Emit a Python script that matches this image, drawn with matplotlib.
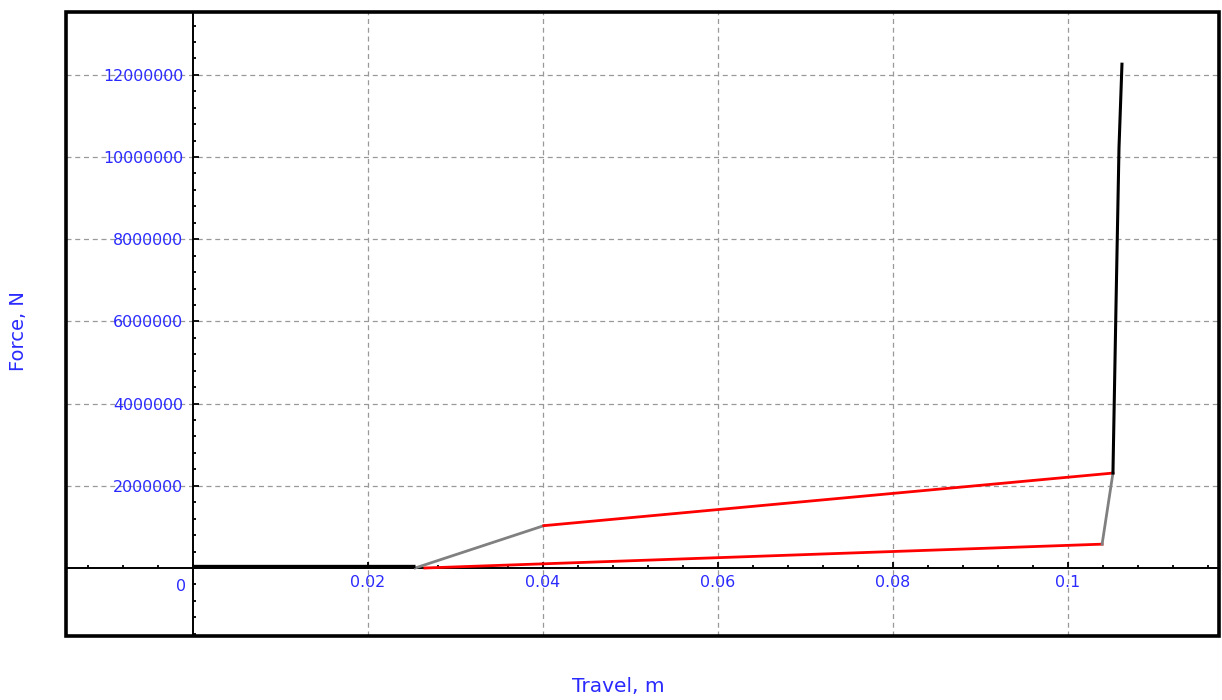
import matplotlib
matplotlib.use("Agg")
import matplotlib.pyplot as plt
from matplotlib.patches import Rectangle
from matplotlib.ticker import MultipleLocator, FuncFormatter

# Press force vs. travel curves
black_x = [0.0, 0.0254]
black_y = [40000, 40000]

gray_x = [0.0254, 0.0401]
gray_y = [0, 1.03e6]

red_upper_x = [0.0401, 0.10514]
red_upper_y = [1.03e6, 2.31e6]

red_lower_x = [0.0265, 0.1039]
red_lower_y = [0, 0.58e6]

gray_end_x = [0.1039, 0.10514]
gray_end_y = [0.58e6, 2.31e6]

black_end_x = [0.10514, 0.10549, 0.10583, 0.10617]
black_end_y = [2.31e6, 6.40e6, 10.22e6, 12.26e6]

x_ticks = [0.02, 0.04, 0.06, 0.08, 0.1]
x_tick_labels = ["0.02", "0.04", "0.06", "0.08", "0.1"]
y_ticks = [2000000, 4000000, 6000000, 8000000, 10000000, 12000000]

blue = "#2a2aff"
plt.rcParams["font.family"] = ["DejaVu Sans"]

fig = plt.figure(figsize=(12.22, 7.0), dpi=100)
ax = fig.add_axes([66 / 1222, 1 - 636 / 700, (1219 - 66) / 1222, (636 - 12) / 700])

ax.set_xlim(-0.01451, 0.11726)
ax.set_ylim(-1.655e6, 13.53e6)

ax.plot(black_x, black_y, color="black", lw=2.4, solid_capstyle="butt", zorder=4)
ax.plot(gray_x, gray_y, color="#808080", lw=2.0, zorder=3)
ax.plot(red_upper_x, red_upper_y, color="#ff0000", lw=2.0, zorder=3)
ax.plot(red_lower_x, red_lower_y, color="#ff0000", lw=2.0, zorder=3)
ax.plot(gray_end_x, gray_end_y, color="#808080", lw=2.0, zorder=3)
ax.plot(black_end_x, black_end_y, color="black", lw=2.2, zorder=4)

# Axes crossing at the origin
for side in ("top", "right"):
    ax.spines[side].set_visible(False)
ax.spines["left"].set_position(("data", 0))
ax.spines["bottom"].set_position(("data", 0))
ax.spines["left"].set_linewidth(1.4)
ax.spines["bottom"].set_linewidth(1.4)

ax.set_xticks(x_ticks)
ax.set_xticklabels(x_tick_labels)
ax.set_yticks(y_ticks)
ax.yaxis.set_major_formatter(FuncFormatter(lambda v, p: f"{int(round(v))}"))
ax.xaxis.set_minor_locator(MultipleLocator(0.004))
ax.yaxis.set_minor_locator(MultipleLocator(400000))

ax.tick_params(axis="both", which="major", direction="in", length=4.5, width=1.3,
               labelsize=11.4, labelcolor=blue, pad=5)
ax.tick_params(axis="both", which="minor", direction="in", length=2.5, width=1.3)
ax.tick_params(axis="y", which="major", pad=7)

ax.grid(True, which="major", color="#999999", linestyle=(0, (4, 3)), linewidth=0.9)
ax.set_axisbelow(True)

# Shared origin label
ax.annotate("0", xy=(0, 0), xytext=(-5, -8), textcoords="offset points",
            ha="right", va="top", color=blue, fontsize=11.4)

# Outer frame
ax.add_patch(Rectangle((0, 0), 1, 1, transform=ax.transAxes, fill=False,
                       edgecolor="black", linewidth=2.6, clip_on=False, zorder=6))

fig.text(618 / 1222, 1 - 686 / 700, "Travel, m", color=blue, fontsize=14.5,
         ha="center", va="center")
fig.text(19 / 1222, 1 - 331 / 700, "Force, N", color=blue, fontsize=14,
         rotation=90, ha="center", va="center")

fig.savefig("out.png", dpi=100, facecolor="white")
